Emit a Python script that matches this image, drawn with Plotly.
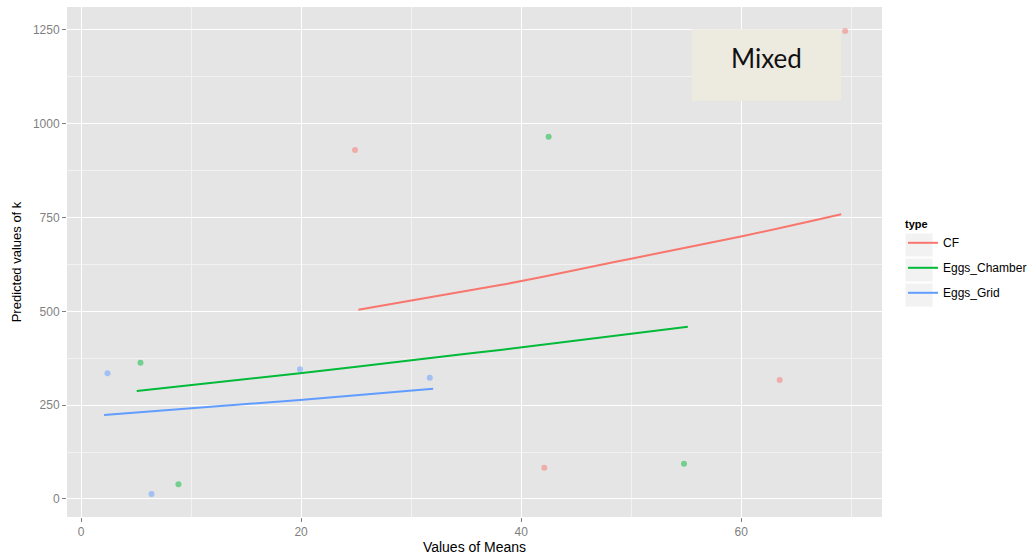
import plotly.graph_objects as go

# Observed points per type
cf_x = [24.9, 42.1, 63.5, 69.45]
cf_y = [930, 83, 317, 1247]
chamber_x = [5.4, 8.85, 42.5, 54.8]
chamber_y = [363, 39, 965, 94]
grid_x = [2.4, 6.4, 19.9, 31.7]
grid_y = [335, 13, 346, 323]

# Fitted curves per type
cf_fit_x = [25.2, 38.1, 42.0, 50.1, 60.2, 69.1]
cf_fit_y = [504, 570, 592, 641, 701, 759]
chamber_fit_x = [5.06, 19.9, 34.45, 38.1, 55.15]
chamber_fit_y = [288, 335, 385, 397, 459]
grid_fit_x = [2.09, 19.9, 32.0]
grid_fit_y = [224, 264, 294]

type_names = ["CF", "Eggs_Chamber", "Eggs_Grid"]
colors = ["#F8766D", "#00BA38", "#619CFF"]
point_colors = ["rgba(248,118,109,0.5)", "rgba(0,186,56,0.5)", "rgba(97,156,255,0.5)"]

x_ticks = [0, 20, 40, 60]
y_ticks = [0, 250, 500, 750, 1000, 1250]

points = [(cf_x, cf_y), (chamber_x, chamber_y), (grid_x, grid_y)]
fits = [(cf_fit_x, cf_fit_y), (chamber_fit_x, chamber_fit_y), (grid_fit_x, grid_fit_y)]

fig = go.Figure()
for name, col, pcol, (px, py), (fx, fy) in zip(type_names, colors, point_colors, points, fits):
    fig.add_trace(go.Scatter(
        x=px, y=py, mode="markers", name=name, legendgroup=name, showlegend=False,
        marker=dict(color=pcol, size=6, line=dict(width=0)),
    ))
    fig.add_trace(go.Scatter(
        x=fx, y=fy, mode="lines", name=name, legendgroup=name,
        line=dict(color=col, width=2, shape="spline"),
    ))

FONT = "Liberation Sans, Arial, sans-serif"
W, H = 1031, 557
L, R, T, B = 67, 149, 7, 40
PW, PH = W - L - R, H - T - B

# "Mixed" label box
fig.add_shape(type="rect", xref="x", yref="y", x0=55.5, x1=69.1, y0=1061, y1=1252,
              fillcolor="#EDEAE0", line=dict(width=0), layer="above")
fig.add_annotation(x=62.3, y=1176, xref="x", yref="y", text="Mixed", showarrow=False,
                   font=dict(family="Lato, Open Sans, sans-serif", size=26, color="#111111"))

# grey key backgrounds behind the legend symbols
for i in range(3):
    y_top = 233 + i * 25
    fig.add_shape(type="rect", xref="paper", yref="paper",
                  x0=(905 - L) / PW, x1=(933 - L) / PW,
                  y0=(H - B - (y_top + 24)) / PH, y1=(H - B - y_top) / PH,
                  fillcolor="#F2F2F2", line=dict(color="white", width=1), layer="below")

axis_common = dict(
    showgrid=True, gridcolor="white", gridwidth=1.2, zeroline=False,
    ticks="outside", ticklen=4, tickcolor="#7F7F7F", tickwidth=1,
    tickfont=dict(family=FONT, size=12, color="#7F7F7F"),
    showline=False, automargin=False,
)

fig.update_layout(
    width=W, height=H,
    margin=dict(l=L, r=R, t=T, b=B),
    paper_bgcolor="white", plot_bgcolor="#E5E5E5",
    font=dict(family=FONT),
    xaxis=dict(range=[-1.28, 72.8], tickvals=x_ticks, **axis_common,
               minor=dict(dtick=10, tick0=0, showgrid=True, gridcolor="#F2F2F2", gridwidth=0.6, ticks=""),
               title=dict(text="Values of Means", font=dict(family=FONT, size=14, color="black"), standoff=2)),
    yaxis=dict(range=[-48, 1311], tickvals=y_ticks, **axis_common,
               minor=dict(dtick=125, tick0=0, showgrid=True, gridcolor="#F2F2F2", gridwidth=0.6, ticks=""),
               title=dict(text="Predicted values of k", font=dict(family=FONT, size=13, color="black"), standoff=8)),
    legend=dict(
        xref="container", yref="container",
        x=903 / W, y=1 - 214 / H, xanchor="left", yanchor="top",
        bgcolor="rgba(0,0,0,0)", tracegroupgap=6,
        title=dict(text="<b>type</b>", font=dict(family=FONT, size=11, color="black")),
        font=dict(family=FONT, size=12, color="black"),
    ),
    showlegend=True,
)

fig.write_html("out.html")
